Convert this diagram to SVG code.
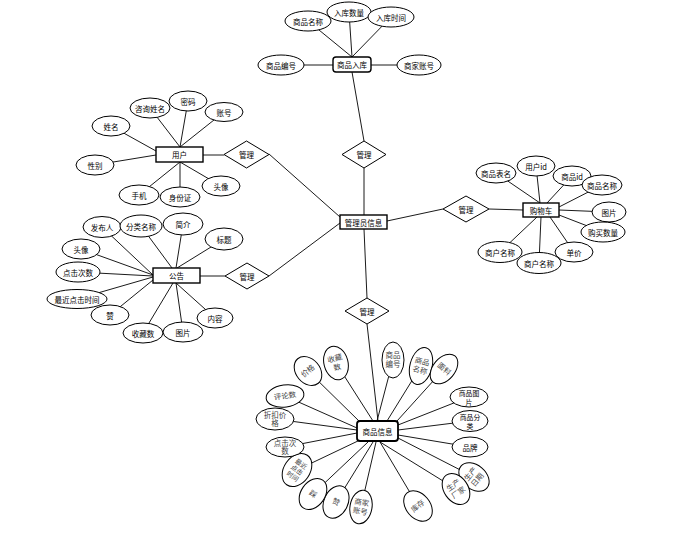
<svg xmlns="http://www.w3.org/2000/svg" width="674" height="541" viewBox="0 0 674 541">
<style>
.l{stroke:#000;stroke-width:0.9;fill:none}
.e{fill:#fff;stroke:#000;stroke-width:1}
.r{fill:#fff;stroke:#000;stroke-width:1.4}
.d{fill:#fff;stroke:#000;stroke-width:1}
.t{font-family:"Noto Sans CJK SC","Noto Sans",sans-serif;font-size:7.5px;fill:#000;text-anchor:middle;dominant-baseline:central}
.t2{font-family:"Noto Sans CJK SC","Noto Sans",sans-serif;font-size:6.8px;fill:#000;text-anchor:middle;dominant-baseline:central}
.s{font-family:"Liberation Serif","Noto Sans CJK SC",serif;font-size:7.5px;fill:#444;text-anchor:middle;dominant-baseline:central}
.s3{font-family:"Liberation Serif","Noto Sans CJK SC",serif;font-size:6.5px;fill:#444;text-anchor:middle;dominant-baseline:central}
</style>
<rect width="674" height="541" fill="#fff"/>
<g id="connectors">
<path class="l" d="M308,21L352,57M349,12L352,57M391,17L352,57M281,65L333,65M419,65L371,65M352,72L364,141M364,168L364,215"/>
<path class="l" d="M111,126L156,151M150,108L180,147M188,101L180,147M224,112L180,147M95,165L156,155M139,195L180,162M180,197L180,162M221,186L180,162M203,155L224,155M269,154L340,217"/>
<path class="l" d="M102,227L153,275M141,226L172,268M183,224L176,268M224,239L177,268M81,249L153,275M78,272L153,276M77,299L153,277M110,315L153,280M143,333L173,283M183,332L176,283M215,318L176,283M200,276L225,276M269,276L340,223"/>
<path class="l" d="M496,173L540,203M536,166L540,203M572,176L547,203M602,185L559,207M609,212L559,210M603,232L559,215M574,252L550,217M539,263L541,217M500,252L537,217M489,209L523,210M443,209L387,221"/>
<path class="l" d="M364,229L367,298M367,324L378,421"/>
<path class="l" d="M308,371L360,422M336,363L373,421M393,360L377,421M421,366L387,421M444,369L397,421M469,397L398,425M470,421L398,430M470,447L398,435M474,477L398,438M456,489L380,442M418,506L380,442M361,507L376,442M336,502L373,442M313,494L368,442M297,470L360,440M285,447L357,433M275,419L357,430M285,396L357,428"/>
</g>
<g id="goods_in">
<rect class="r" x="333" y="57" width="38" height="15" rx="3"/>
<text class="t" x="352" y="64.5">商品入库</text>
</g>
<g id="goods_in_attrs">
<ellipse class="e" cx="308" cy="21" rx="23" ry="10"/><text class="t" x="308" y="21">商品名称</text>
<ellipse class="e" cx="349" cy="12" rx="22" ry="10"/><text class="t" x="349" y="12">入库数量</text>
<ellipse class="e" cx="391" cy="17" rx="23" ry="10"/><text class="t" x="391" y="17">入库时间</text>
<ellipse class="e" cx="281" cy="65" rx="23" ry="10"/><text class="t" x="281" y="65">商品编号</text>
<ellipse class="e" cx="419" cy="65" rx="22" ry="10"/><text class="t" x="419" y="65">商家账号</text>
</g>
<g id="admin">
<rect class="r" x="340" y="215" width="47" height="14"/>
<text class="t" x="363.5" y="222">管理员信息</text>
</g>
<g id="rel_top"><polygon class="d" points="364,141 386,154.5 364,168 342,154.5"/><text class="t" x="364" y="154.5">管理</text></g>
<g id="rel_user"><polygon class="d" points="246.5,141 269,154.5 246.5,168 224,154.5"/><text class="t" x="246.5" y="154.5">管理</text></g>
<g id="rel_notice"><polygon class="d" points="247,263 269,276 247,289 225,276"/><text class="t" x="247" y="276">管理</text></g>
<g id="rel_cart"><polygon class="d" points="466,196 489,209 466,222 443,209"/><text class="t" x="466" y="209">管理</text></g>
<g id="rel_goods"><polygon class="d" points="367,298 389,311 367,324 345,311"/><text class="t" x="367" y="311">管理</text></g>
<g id="user">
<rect class="r" x="156" y="147" width="47" height="15"/>
<text class="t" x="179.5" y="154.5">用户</text>
</g>
<g id="user_attrs">
<ellipse class="e" cx="111" cy="126" rx="19" ry="10"/><text class="t" x="111" y="126">姓名</text>
<ellipse class="e" cx="150" cy="108" rx="20" ry="10"/><text class="t" x="150" y="108">咨询姓名</text>
<ellipse class="e" cx="188" cy="101" rx="19" ry="10"/><text class="t" x="188" y="101">密码</text>
<ellipse class="e" cx="224" cy="112" rx="19" ry="9.5"/><text class="t" x="224" y="112">账号</text>
<ellipse class="e" cx="95" cy="165" rx="19" ry="10"/><text class="t" x="95" y="165">性别</text>
<ellipse class="e" cx="139" cy="195" rx="20" ry="10"/><text class="t" x="139" y="195">手机</text>
<ellipse class="e" cx="180" cy="197" rx="20" ry="10"/><text class="t" x="180" y="197">身份证</text>
<ellipse class="e" cx="221" cy="186" rx="19" ry="10"/><text class="t" x="221" y="186">头像</text>
</g>
<g id="notice">
<rect class="r" x="153" y="268" width="47" height="15"/>
<text class="t" x="176.5" y="275.5">公告</text>
</g>
<g id="notice_attrs">
<ellipse class="e" cx="102" cy="227" rx="19" ry="10.5"/><text class="t" x="102" y="227">发布人</text>
<ellipse class="e" cx="141" cy="226" rx="21" ry="11"/><text class="t" x="141" y="226">分类名称</text>
<ellipse class="e" cx="183" cy="224" rx="20" ry="11"/><text class="t" x="183" y="224">简介</text>
<ellipse class="e" cx="224" cy="239" rx="19" ry="11"/><text class="t" x="224" y="239">标题</text>
<ellipse class="e" cx="81" cy="249" rx="19" ry="10"/><text class="t" x="81" y="249">头像</text>
<ellipse class="e" cx="78" cy="272" rx="22" ry="10"/><text class="t" x="78" y="272">点击次数</text>
<ellipse class="e" cx="77" cy="299" rx="30" ry="9.5"/><text class="t" x="77" y="299">最近点击时间</text>
<ellipse class="e" cx="110" cy="315" rx="19" ry="10"/><text class="t" x="110" y="315">赞</text>
<ellipse class="e" cx="143" cy="333" rx="20" ry="10"/><text class="t" x="143" y="333">收藏数</text>
<ellipse class="e" cx="183" cy="332" rx="20" ry="10"/><text class="t" x="183" y="332">图片</text>
<ellipse class="e" cx="215" cy="318" rx="18" ry="10"/><text class="t" x="215" y="318">内容</text>
</g>
<g id="cart">
<rect class="r" x="523" y="203" width="36" height="14"/>
<text class="t" x="541" y="210">购物车</text>
</g>
<g id="cart_attrs">
<ellipse class="e" cx="496" cy="173" rx="20" ry="10"/><text class="t" x="496" y="173">商品表名</text>
<ellipse class="e" cx="536" cy="166" rx="19" ry="10"/><text class="t" x="536" y="166">用户id</text>
<ellipse class="e" cx="572" cy="176" rx="19" ry="10"/><text class="t" x="572" y="176">商品id</text>
<ellipse class="e" cx="602" cy="185" rx="20" ry="10"/><text class="t" x="602" y="185">商品名称</text>
<ellipse class="e" cx="609" cy="212" rx="17" ry="10"/><text class="t" x="609" y="212">图片</text>
<ellipse class="e" cx="603" cy="232" rx="22" ry="10"/><text class="t" x="603" y="232">购买数量</text>
<ellipse class="e" cx="574" cy="252" rx="19" ry="10"/><text class="t" x="574" y="252">单价</text>
<ellipse class="e" cx="539" cy="263" rx="22" ry="10.5"/><text class="t" x="539" y="263">商户名称</text>
<ellipse class="e" cx="500" cy="252" rx="22" ry="10.5"/><text class="t" x="500" y="252">商户名称</text>
</g>
<g id="goods">
<rect x="357" y="421" width="41" height="20" rx="3" fill="#fff" stroke="#000" stroke-width="1.8"/>
<text class="t" x="377.5" y="431">商品信息</text>
</g>
<g id="goods_attrs">
<g transform="translate(308,371) rotate(-40)"><ellipse class="e" rx="12" ry="16"/><text class="s" x="0" y="0">价格</text></g>
<g transform="translate(336,363) rotate(-15)"><ellipse class="e" rx="12" ry="17"/><text class="s" x="0" y="-4.5">收藏</text><text class="s" x="0" y="4.5">数</text></g>
<g transform="translate(393,360)"><ellipse class="e" rx="11" ry="18"/><text class="s" x="0" y="-4.5">商品</text><text class="s" x="0" y="4.5">编号</text></g>
<g transform="translate(421,366) rotate(15)"><ellipse class="e" rx="11" ry="19"/><text class="s" x="0" y="-4.5">商品</text><text class="s" x="0" y="4.5">名称</text></g>
<g transform="translate(444,369) rotate(40)"><ellipse class="e" rx="11" ry="17"/><text class="s" x="0" y="0">面料</text></g>
<ellipse class="e" cx="469" cy="397" rx="19" ry="10"/><text class="t2" x="469" y="393">商品图</text><text class="t2" x="469" y="401.5">片</text>
<ellipse class="e" cx="470" cy="421" rx="18" ry="10.5"/><text class="t2" x="470" y="417">商品分</text><text class="t2" x="470" y="425.5">类</text>
<ellipse class="e" cx="470" cy="447" rx="18" ry="10"/><text class="t" x="470" y="447">品牌</text>
<g transform="translate(474,477) rotate(-50)"><ellipse class="e" rx="12" ry="17"/><text class="s" x="0" y="-4.5">生产</text><text class="s" x="0" y="4.5">日期</text></g>
<g transform="translate(456,489) rotate(-35)"><ellipse class="e" rx="12" ry="17"/><text class="s" x="0" y="-4.5">生产</text><text class="s" x="0" y="4.5">厂家</text></g>
<g transform="translate(418,506) rotate(-40)"><ellipse class="e" rx="12" ry="17"/><text class="s" x="0" y="0">库存</text></g>
<g transform="translate(361,507) rotate(10)"><ellipse class="e" rx="11" ry="17"/><text class="s" x="0" y="-4.5">商家</text><text class="s" x="0" y="4.5">账号</text></g>
<g transform="translate(336,502) rotate(25)"><ellipse class="e" rx="12" ry="17"/><text class="s" x="0" y="0">赞</text></g>
<g transform="translate(313,494) rotate(35)"><ellipse class="e" rx="12" ry="17"/><text class="s" x="0" y="0">踩</text></g>
<g transform="translate(297,470) rotate(35)"><ellipse class="e" rx="13" ry="18"/><text class="s3" x="0" y="-7.5">最近</text><text class="s3" x="0" y="0">点击</text><text class="s3" x="0" y="7.5">时间</text></g>
<ellipse class="e" cx="285" cy="447" rx="19" ry="10"/><text class="s" x="285" y="443" fill="#000">点击次</text><text class="s" x="285" y="451.5" fill="#000">数</text>
<ellipse class="e" cx="275" cy="419" rx="19" ry="11"/><text class="s" x="275" y="415" fill="#000">折扣价</text><text class="s" x="275" y="423.5" fill="#000">格</text>
<g transform="translate(285,396) rotate(-8)"><ellipse class="e" rx="19" ry="11"/><text class="s" x="0" y="0">评论数</text></g>
</g>
</svg>
